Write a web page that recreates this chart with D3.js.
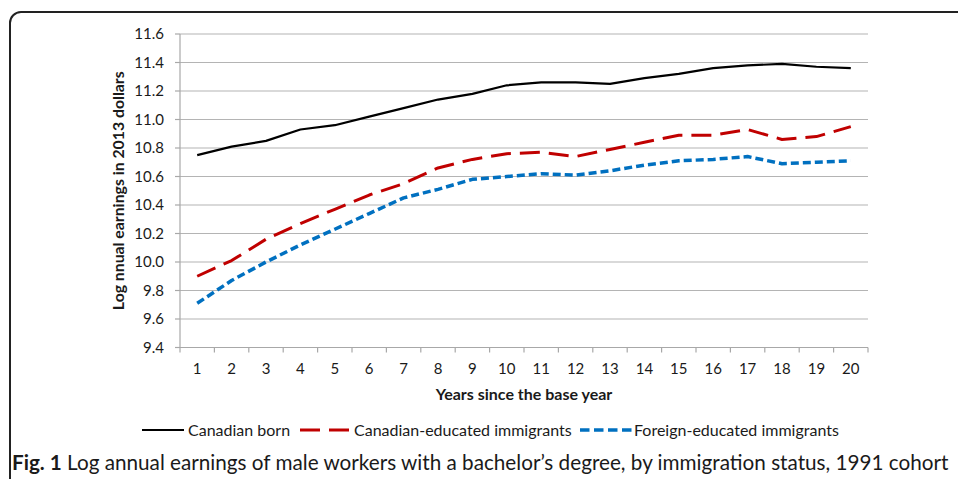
<!DOCTYPE html>
<html>
<head>
<meta charset="utf-8">
<script src="https://cdn.jsdelivr.net/npm/d3@7/dist/d3.min.js"></script>
<style>
	body { margin: 0; background: #fff; }
	text { font-family: Lato, "Open Sans", sans-serif; fill: #1a1a1a; }
</style>
</head>
<body>
<div id="chart"></div>
<script>
/* global d3 */

//	BEGIN data

var years = [1, 2, 3, 4, 5, 6, 7, 8, 9, 10, 11, 12, 13, 14, 15, 16, 17, 18, 19, 20];
var canadianBorn = [10.75, 10.81, 10.85, 10.93, 10.96, 11.02, 11.08, 11.14, 11.18, 11.24,
	11.26, 11.26, 11.25, 11.29, 11.32, 11.36, 11.38, 11.39, 11.37, 11.36];
var canadianEducated = [9.90, 10.01, 10.16, 10.27, 10.37, 10.47, 10.55, 10.66, 10.72, 10.76,
	10.77, 10.74, 10.79, 10.84, 10.89, 10.89, 10.93, 10.86, 10.88, 10.95];
var foreignEducated = [9.71, 9.87, 10.00, 10.12, 10.23, 10.34, 10.45, 10.51, 10.58, 10.60,
	10.62, 10.61, 10.64, 10.68, 10.71, 10.72, 10.74, 10.69, 10.70, 10.71];
var yTicks = [9.4, 9.6, 9.8, 10.0, 10.2, 10.4, 10.6, 10.8, 11.0, 11.2, 11.4, 11.6];
var seriesNames = ["Canadian born", "Canadian-educated immigrants", "Foreign-educated immigrants"];

//	END data

var width = 958, height = 479;
// plot area edges (not "top": that name is taken by window.top)
var plotLeft = 180, plotRight = 868, plotTop = 34, plotBottom = 347.5;

var svg = d3.select("#chart")
	.append("svg")
	.attr("width", width)
	.attr("height", height);

// frame round the figure, cut off at the right and bottom edges
svg.append("path")
	.attr("d", "M10,500 V23 A11,11 0 0 1 21,12 H980")
	.style("fill", "none")
	.style("stroke", "#222")
	.style("stroke-width", 2);

var x = d3.scaleBand()
	.domain(years)
	.range([plotLeft, plotRight]);

var y = d3.scaleLinear()
	.domain([9.4, 11.6])
	.range([plotBottom, plotTop]);

// horizontal grid lines
svg.selectAll(".grid")
	.data(yTicks)
	.enter().append("line")
	.attr("class", "grid")
	.attr("x1", plotLeft)
	.attr("x2", plotRight)
	.attr("y1", function(d) { return y(d); })
	.attr("y2", function(d) { return y(d); })
	.style("stroke", "#b4b4b4")
	.style("stroke-width", 1.2);

// left axis line
svg.append("line")
	.attr("x1", plotLeft).attr("x2", plotLeft)
	.attr("y1", plotTop).attr("y2", plotBottom)
	.style("stroke", "#a8a8a8")
	.style("stroke-width", 1.2);

// small outer ticks on the left axis
svg.selectAll(".ytick")
	.data(yTicks)
	.enter().append("line")
	.attr("class", "ytick")
	.attr("x1", plotLeft - 5).attr("x2", plotLeft)
	.attr("y1", function(d) { return y(d); })
	.attr("y2", function(d) { return y(d); })
	.style("stroke", "#a8a8a8")
	.style("stroke-width", 1.2);

svg.selectAll(".ylabel")
	.data(yTicks)
	.enter().append("text")
	.attr("class", "ylabel")
	.attr("x", plotLeft - 16)
	.attr("y", function(d) { return y(d); })
	.attr("dy", "0.35em")
	.attr("text-anchor", "end")
	.style("font-size", "15px")
	.text(function(d) { return d3.format(".1f")(d); });

// bottom axis with ticks between categories
svg.append("line")
	.attr("x1", plotLeft).attr("x2", plotRight)
	.attr("y1", plotBottom).attr("y2", plotBottom)
	.style("stroke", "#a8a8a8")
	.style("stroke-width", 1.2);

var edges = years.map(function(d) { return x(d); }).concat([plotRight]);
svg.selectAll(".xtick")
	.data(edges)
	.enter().append("line")
	.attr("class", "xtick")
	.attr("x1", function(d) { return d; })
	.attr("x2", function(d) { return d; })
	.attr("y1", plotBottom)
	.attr("y2", plotBottom + 5)
	.style("stroke", "#a8a8a8")
	.style("stroke-width", 1.2);

svg.selectAll(".xlabel")
	.data(years)
	.enter().append("text")
	.attr("class", "xlabel")
	.attr("x", function(d) { return x(d) + x.bandwidth() / 2; })
	.attr("y", 374)
	.attr("text-anchor", "middle")
	.style("font-size", "15px")
	.text(function(d) { return d; });

// axis titles
svg.append("text")
	.attr("transform", "translate(124," + ((plotTop + plotBottom) / 2) + ") rotate(-90)")
	.attr("text-anchor", "middle")
	.style("font-size", "15.8px")
	.style("font-weight", "bold")
	.text("Log nnual earnings in 2013 dollars");

svg.append("text")
	.attr("x", (plotLeft + plotRight) / 2)
	.attr("y", 400)
	.attr("text-anchor", "middle")
	.style("font-size", "16px")
	.style("font-weight", "bold")
	.text("Years since the base year");

// the three series
var series = [
	{ name: seriesNames[0], values: canadianBorn, color: "#000", dash: null, keyDash: null, keyLen: 42, w: 2.2 },
	{ name: seriesNames[1], values: canadianEducated, color: "#c00000", dash: "20,9", keyDash: "20,9", keyLen: 49, w: 3 },
	{ name: seriesNames[2], values: foreignEducated, color: "#0070c0", dash: "8,4", keyDash: "9.5,4.5", keyLen: 51.5, w: 3.5 }
];

var line = d3.line()
	.x(function(d, i) { return x(years[i]) + x.bandwidth() / 2; })
	.y(function(d) { return y(d); });

svg.selectAll(".series")
	.data(series)
	.enter().append("path")
	.attr("class", "series")
	.attr("d", function(d) { return line(d.values); })
	.style("fill", "none")
	.style("stroke", function(d) { return d.color; })
	.style("stroke-width", function(d) { return d.w; })
	.style("stroke-linejoin", "round")
	.style("stroke-dasharray", function(d) { return d.dash; });

// legend
var legendX = [142, 300, 580];
var legend = svg.selectAll(".legend")
	.data(series)
	.enter().append("g")
	.attr("class", "legend")
	.attr("transform", function(d, i) { return "translate(" + legendX[i] + ",430)"; });

legend.append("line")
	.attr("x1", 0).attr("x2", function(d) { return d.keyLen; })
	.attr("y1", 0).attr("y2", 0)
	.style("stroke", function(d) { return d.color; })
	.style("stroke-width", function(d) { return d.w; })
	.style("stroke-dasharray", function(d) { return d.keyDash; });

legend.append("text")
	.attr("x", function(d, i) { return i === 0 ? 46 : 54; })
	.attr("y", 0)
	.attr("dy", "0.35em")
	.style("font-size", "16px")
	.text(function(d) { return d.name; });

// caption
var caption = svg.append("text")
	.attr("x", 12)
	.attr("y", 470)
	.style("font-size", "20.7px");
caption.append("tspan")
	.style("font-weight", "bold")
	.text("Fig. 1");
caption.append("tspan")
	.text(" Log annual earnings of male workers with a bachelor\u2019s degree, by immigration status, 1991 cohort");
</script>
</body>
</html>
